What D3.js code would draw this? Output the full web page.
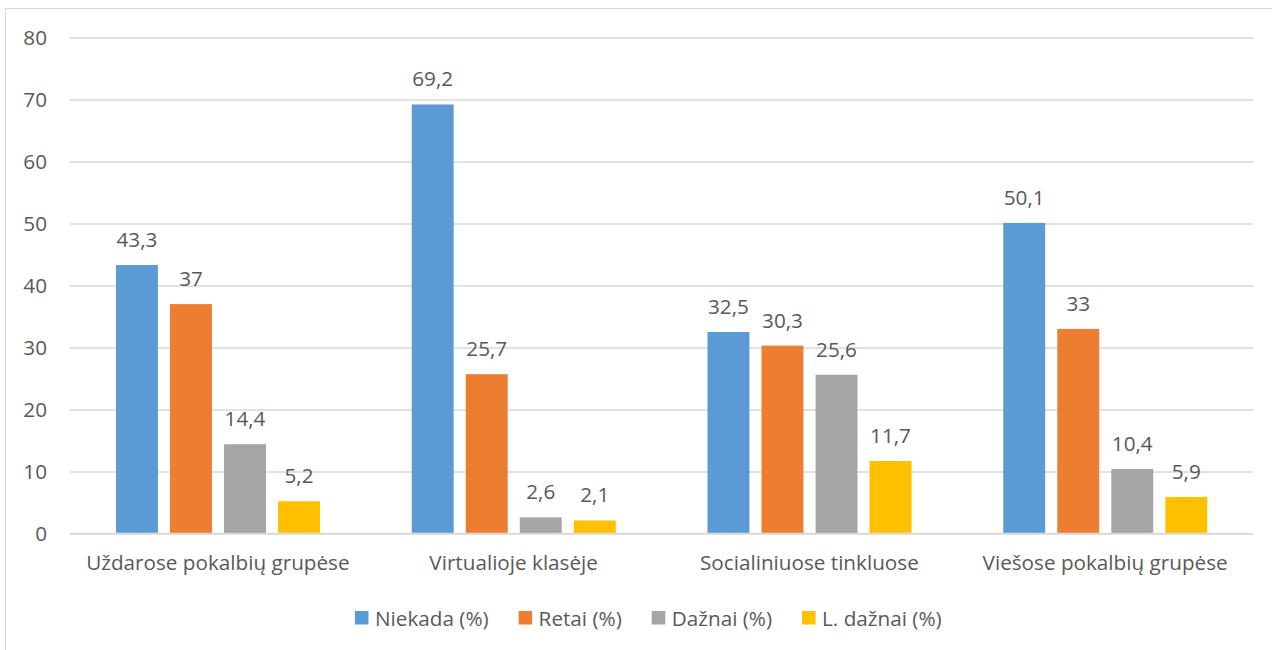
<!DOCTYPE html>
<html><head><meta charset="utf-8">
<script src="https://cdn.jsdelivr.net/npm/d3@7"></script>
<style>body{margin:0;background:#fff}svg{display:block}text{font-family:"Open Sans",sans-serif;fill:#595959}</style>
</head><body><svg id="c" width="1272" height="650"></svg>
<script>
const categories = ["Uždarose pokalbių grupėse","Virtualioje klasėje","Socialiniuose tinkluose","Viešose pokalbių grupėse"];
const seriesNames = ["Niekada (%)","Retai (%)","Dažnai (%)","L. dažnai (%)"];
const niekada = [43.3, 69.2, 32.5, 50.1];
const retai = [37, 25.7, 30.3, 33];
const daznai = [14.4, 2.6, 25.6, 10.4];
const lDaznai = [5.2, 2.1, 11.7, 5.9];
const yTicks = [0,10,20,30,40,50,60,70,80];
const colors = ["#5B9BD5","#ED7D31","#A5A5A5","#FFC000"];
const seriesValues = [niekada, retai, daznai, lDaznai];

(function(){
const FS = "20.7px";
const svg = d3.select("#c");
svg.append("rect").attr("x",5.5).attr("y",8.5).attr("width",1300).attr("height",700)
  .attr("fill","none").attr("stroke","#d9d9d9").attr("stroke-width",1);

const L=70, R=1253, T=37.5, B=533.5;
const y = d3.scaleLinear().domain([0,80]).range([B,T]);
const x0 = d3.scaleBand().domain(categories).range([L,R]).padding(0);
const x1 = d3.scaleBand().domain(seriesNames).range([46,250]).paddingInner(0.224).paddingOuter(0);

const yAxis = d3.axisLeft(y).tickValues(yTicks).tickSize(-(R-L)).tickFormat(d=>d).tickPadding(23);
const gy = svg.append("g").attr("transform",`translate(${L},0)`).call(yAxis);
gy.select(".domain").remove();
gy.selectAll(".tick line").attr("stroke","#d9d9d9").attr("stroke-width",1.3);
gy.selectAll(".tick text").style("font-size",FS).attr("fill","#595959");

const groups = svg.append("g").selectAll("g").data(categories).join("g")
  .attr("transform",d=>`translate(${x0(d)},0)`);
seriesNames.forEach((s,si)=>{
  groups.append("rect")
    .attr("x",x1(s)).attr("width",x1.bandwidth())
    .attr("y",(d,i)=>y(seriesValues[si][i]))
    .attr("height",(d,i)=>y(0)-y(seriesValues[si][i]))
    .attr("fill",colors[si]);
  groups.append("text")
    .attr("x",x1(s)+x1.bandwidth()/2)
    .attr("y",(d,i)=>y(seriesValues[si][i])-18)
    .attr("text-anchor","middle").style("font-size",FS)
    .text((d,i)=>String(seriesValues[si][i]).replace(".",","));
});
svg.append("line").attr("x1",L).attr("x2",R).attr("y1",y(0)).attr("y2",y(0))
  .attr("stroke","#d9d9d9").attr("stroke-width",1.3);

const xAxis = d3.axisBottom(x0).tickSize(0).tickPadding(22);
const gx = svg.append("g").attr("transform",`translate(0,${B})`).call(xAxis);
gx.select(".domain").remove();
gx.selectAll(".tick text").style("font-size",FS).attr("fill","#595959");

const lg = svg.append("g");
let xpos = 0;
seriesNames.forEach((s,i)=>{
  const g = lg.append("g");
  g.append("rect").attr("x",0).attr("y",-7).attr("width",13.5).attr("height",13.5).attr("fill",colors[i]);
  const t = g.append("text").attr("x",20).attr("y",7.5).style("font-size",FS).text(s);
  const w = 20 + t.node().getComputedTextLength();
  g.attr("transform",`translate(${xpos},618)`);
  xpos += w + 30;
});
const total = xpos - 30;
lg.attr("transform",`translate(${648.3-total/2},0)`);
})();
</script></body></html>
